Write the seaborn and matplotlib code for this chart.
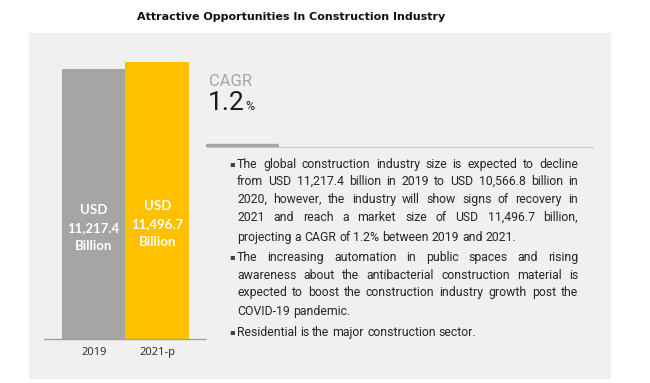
import matplotlib
matplotlib.use("Agg")
import matplotlib.pyplot as plt
import seaborn as sns
from matplotlib.patches import Rectangle
from matplotlib import font_manager

# Datos del grafico
years = ["2019", "2021-p"]
market_size = [11217.4, 11496.7]
bar_labels = ["USD\n11,217.4\nBillion", "USD\n11,496.7\nBillion"]
bar_colors = ["#A5A5A5", "#FFC000"]

title = "Attractive Opportunities In Construction Industry"
cagr_value = "1.2"

paragraphs = [
    ["The global construction industry size is expected to decline",
     "from USD 11,217.4 billion in 2019 to USD 10,566.8 billion in",
     "2020, however, the industry will show signs of recovery in",
     "2021 and reach a market size of USD 11,496.7 billion,",
     "projecting a CAGR of 1.2% between 2019 and 2021."],
    ["The increasing automation in public spaces and rising",
     "awareness about the antibacterial construction material is",
     "expected to boost the construction industry growth post the",
     "COVID-19 pandemic."],
    ["Residential is the major construction sector."],
]

W, H = 650, 383
sns.set_style("white")
fig = plt.figure(figsize=(W / 100, H / 100), dpi=100)
fig.patch.set_facecolor("white")

names = {f.name for f in font_manager.fontManager.ttflist}
narrow = "Liberation Sans Narrow" if "Liberation Sans Narrow" in names else "Roboto"


def px(x, y):
    # pixeles (origen arriba-izquierda) a fraccion de figura
    return x / W, 1 - y / H


# Panel gris de fondo
x0, y0 = px(29, 379)
fig.patches.append(Rectangle((x0, y0), (611 - 29) / W, (379 - 33) / H,
                             transform=fig.transFigure, facecolor="#F0F0F0",
                             edgecolor="none", zorder=-5))

# Titulo
fig.text(*px(291, 17), title, ha="center", va="center", fontsize=8,
         fontweight="bold", family="DejaVu Sans", color="#111111")

# Grafico de barras
ymax = 12000
ax_h = 277 * ymax / market_size[1]
left, bottom = px(44, 339)
ax = fig.add_axes([left, bottom, (205 - 44) / W, ax_h / H], zorder=2)
ax.set_facecolor("none")
sns.barplot(x=years, y=market_size, hue=years, palette=bar_colors,
            width=1, legend=False, ax=ax, saturation=1, linewidth=0)
ax.set_xlim(-0.78, 1.75)
ax.set_ylim(0, ymax)
ax.set_yticks([])
for s in ["top", "left", "right"]:
    ax.spines[s].set_visible(False)
ax.spines["bottom"].set_color("#A0A0A0")
ax.spines["bottom"].set_linewidth(1)
ax.spines["bottom"].set_zorder(5)
ax.tick_params(axis="x", length=0, pad=6, labelsize=8)
for lab in ax.get_xticklabels():
    lab.set_family("Open Sans")
ax.set_xlabel("")
ax.set_ylabel("")

label_y = [market_size[0] * 0.41, market_size[1] * 0.415]
for i, txt in enumerate(bar_labels):
    ax.text(i, label_y[i], txt, ha="center", va="center", color="white",
            fontsize=9.5, fontweight="bold", family="Lato", linespacing=1.6)

# Bloque CAGR
fig.text(*px(209, 86), "CAGR", ha="left", va="baseline", fontsize=12,
         color="#A6A6A6", family=narrow)
fig.text(*px(208, 110), cagr_value, ha="left", va="baseline", fontsize=19,
         color="#1A1A1A", family=narrow)
fig.text(*px(245, 110), "%", ha="left", va="baseline", fontsize=9,
         color="#1A1A1A", family=narrow)

fig.add_artist(plt.Line2D([207 / W, 593 / W], [1 - 147 / H] * 2,
                          color="#C8C8C8", lw=0.8, transform=fig.transFigure))
fig.add_artist(plt.Line2D([207 / W, 277 / W], [1 - 145 / H] * 2,
                          color="#A6A6A6", lw=2.5, transform=fig.transFigure))

# Texto justificado con vinetas
renderer = fig.canvas.get_renderer()
text_left, text_right = 237, 578
line_y = [[168, 185, 203, 221, 241], [261, 279, 296, 315], [336]]
body = dict(fontsize=8.8, color="#262626", family="Roboto",
            va="baseline", ha="left")

a1 = fig.text(0, 0, "a a", **body)
a2 = fig.text(0, 0, "aa", **body)
sp = a1.get_window_extent(renderer).width - a2.get_window_extent(renderer).width
a1.remove()
a2.remove()

for p, lines in enumerate(paragraphs):
    fig.text(*px(229, line_y[p][0] - 4), "\u25aa", fontsize=6, color="#404040",
             va="center", ha="left", family="DejaVu Sans")
    for k, line in enumerate(lines):
        yy = line_y[p][k]
        words = line.split(" ")
        last = k == len(lines) - 1
        objs = [fig.text(*px(text_left, yy), w_, **body) for w_ in words]
        widths = [o.get_window_extent(renderer).width for o in objs]
        if last or len(words) == 1:
            gap = sp
        else:
            gap = (text_right - text_left - sum(widths)) / (len(words) - 1)
        x = text_left
        for o, w_ in zip(objs, widths):
            o.set_position(px(x, yy))
            x += w_ + gap

fig.savefig("out.png", dpi=100, facecolor="white")
